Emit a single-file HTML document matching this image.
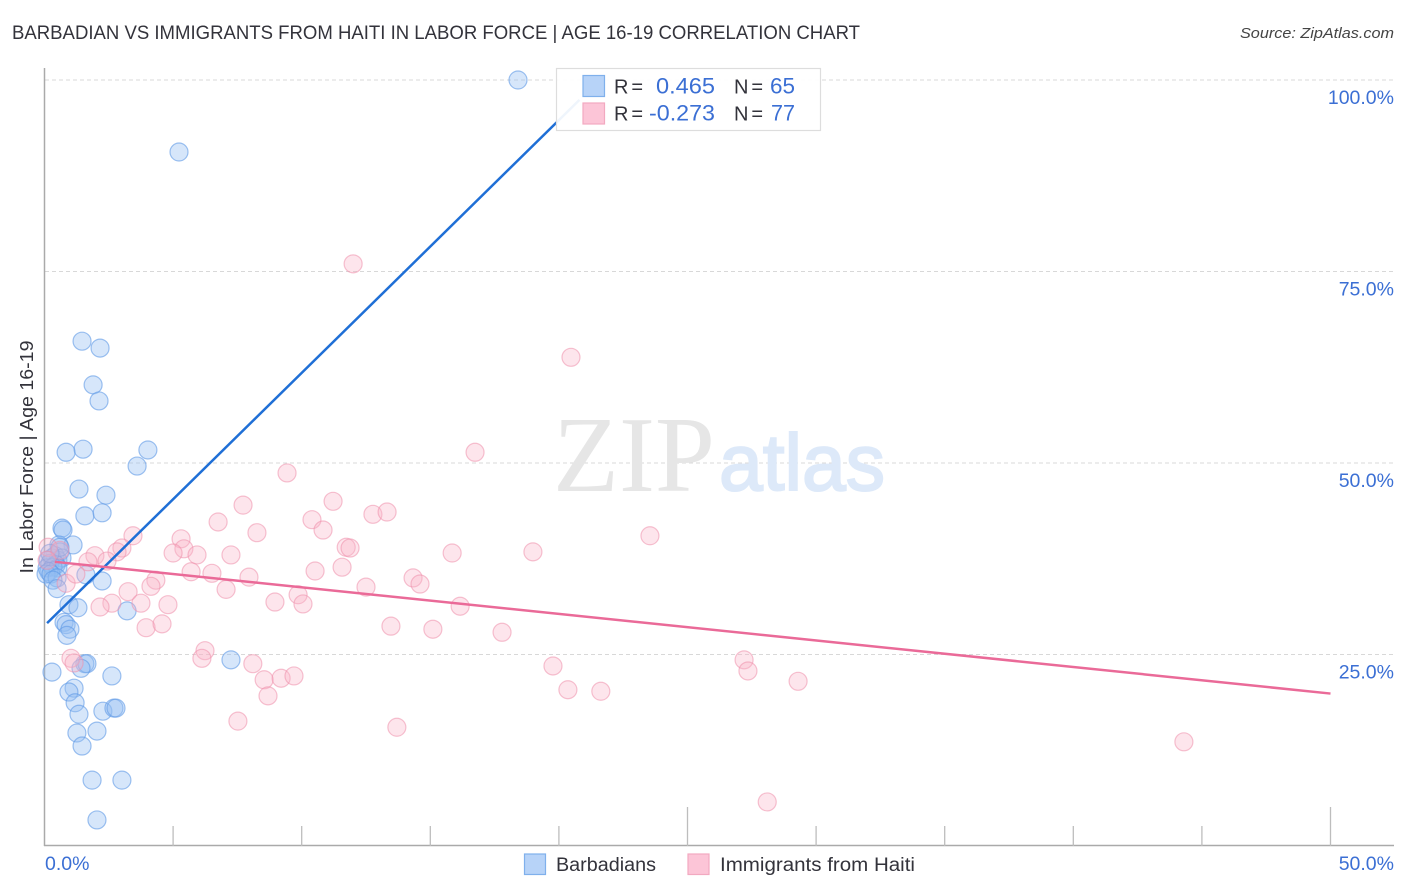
<!DOCTYPE html>
<html lang="en">
<head>
<meta charset="utf-8">
<title>Barbadian vs Immigrants from Haiti in Labor Force | Age 16-19 Correlation Chart</title>
<style>
html,body{margin:0;padding:0;background:#fff;width:1406px;height:892px;overflow:hidden}
svg{display:block;font-family:"Liberation Sans",sans-serif}
</style>
</head>
<body>
<svg id="chart" xmlns="http://www.w3.org/2000/svg" width="1406" height="892" viewBox="0 0 1406 892">
  <text x="12" y="39" font-size="19" fill="#33333b" textLength="848" lengthAdjust="spacingAndGlyphs">BARBADIAN VS IMMIGRANTS FROM HAITI IN LABOR FORCE | AGE 16-19 CORRELATION CHART</text>
  <text x="1394" y="38" font-size="15" font-style="italic" fill="#444" text-anchor="end" textLength="154" lengthAdjust="spacingAndGlyphs">Source: ZipAtlas.com</text>

  <g id="grid"></g>

  <g>
    <text x="553" y="491" font-family="'Liberation Serif',serif" font-size="108" fill="#e6e6e6" textLength="162" lengthAdjust="spacingAndGlyphs">ZIP</text>
    <text x="719" y="490" font-size="80" fill="#dde9f9" stroke="#dde9f9" stroke-width="2" textLength="166" lengthAdjust="spacingAndGlyphs">atlas</text>
  </g>

  <g id="axes">
    <line x1="44.5" y1="68" x2="44.5" y2="846" stroke="#aaa" stroke-width="1.5"/>
    <line x1="44" y1="845.5" x2="1394" y2="845.5" stroke="#aaa" stroke-width="1.5"/>
  </g>

  <g id="points-blue"></g>
  <g id="points-pink"></g>
  <g id="trends"></g>

  <g id="y-labels"></g>
  <g id="x-labels"></g>

  <text transform="translate(33,457) rotate(-90)" font-size="18.5" fill="#33333b" text-anchor="middle" textLength="233" lengthAdjust="spacingAndGlyphs">In Labor Force | Age 16-19</text>

  <g>
    <rect x="556.5" y="68.5" width="264" height="62" fill="#fff" fill-opacity="0.93" stroke="#ddd" stroke-width="1.2"/>
    <rect x="583" y="75.5" width="21.5" height="21" fill="#b7d3f8" stroke="#7fb0ec" stroke-width="1.2"/>
    <rect x="583" y="103" width="21.5" height="21" fill="#fcc5d7" stroke="#f2a9c0" stroke-width="1.2"/>
    <text x="614" y="93.5" font-size="20" fill="#33333b" textLength="29">R =</text>
    <text x="656" y="93.5" font-size="22" fill="#3b6fd4" textLength="59" lengthAdjust="spacingAndGlyphs">0.465</text>
    <text x="734" y="93.5" font-size="20" fill="#33333b" textLength="29">N =</text>
    <text x="770" y="93.5" font-size="22" fill="#3b6fd4" textLength="25" lengthAdjust="spacingAndGlyphs">65</text>
    <text x="614" y="120.5" font-size="20" fill="#33333b" textLength="29">R =</text>
    <text x="649" y="120.5" font-size="22" fill="#3b6fd4" textLength="66" lengthAdjust="spacingAndGlyphs">-0.273</text>
    <text x="734" y="120.5" font-size="20" fill="#33333b" textLength="29">N =</text>
    <text x="771" y="120.5" font-size="22" fill="#3b6fd4" textLength="24" lengthAdjust="spacingAndGlyphs">77</text>
  </g>

  <g>
    <rect x="524.5" y="854" width="21" height="20.5" fill="#b7d3f8" stroke="#7fb0ec" stroke-width="1.2"/>
    <text x="556" y="871" font-size="19" fill="#33333b" textLength="100" lengthAdjust="spacingAndGlyphs">Barbadians</text>
    <rect x="688" y="854" width="21" height="20.5" fill="#fcc5d7" stroke="#f2a9c0" stroke-width="1.2"/>
    <text x="720" y="871" font-size="19" fill="#33333b" textLength="195" lengthAdjust="spacingAndGlyphs">Immigrants from Haiti</text>
  </g>
</svg>

<script>
const barbadianX = [18.41,5.23,1.46,2.16,1.89,2.12,0.84,1.50,4.02,3.60,1.34,2.39,1.57,2.24,0.68,0.72,1.11,0.56,1.61,2.24,3.21,0.95,1.30,0.76,0.84,0.99,0.87,7.25,1.57,1.65,1.42,0.29,2.62,1.15,0.95,1.19,1.34,2.27,2.70,2.78,1.26,2.04,1.46,1.85,3.01,2.04,0.60,0.41,0.29,0.52,0.14,0.68,0.21,0.45,0.10,0.33,0.52,0.17,0.06,0.25,0.49,0.33,0.49,0.60,0.21];
const barbadianY = [100,90.6,65.9,65.0,60.2,58.1,51.4,51.8,51.7,49.6,46.6,45.8,43.1,43.5,41.5,41.25,39.3,39.3,35.4,34.6,30.7,31.5,31.1,29.2,28.9,28.3,27.5,24.3,23.8,23.8,23.2,22.7,22.2,20.6,20.1,18.7,17.2,17.6,18.0,18.0,14.75,15.0,13.05,8.6,8.6,3.4,38.4,37.9,37.6,37.3,37.3,37.6,36.9,36.7,36.3,36.4,36.3,35.8,35.5,35.5,35.0,34.7,33.6,39.0,38.2];
const haitiX = [12.0,20.47,9.43,16.74,11.22,7.72,12.77,13.32,10.4,6.75,10.83,8.26,23.54,3.44,5.31,3.01,5.42,5.0,5.93,7.25,11.73,11.88,15.85,18.99,1.96,2.82,11.57,1.69,2.43,10.52,5.7,6.51,7.95,4.33,4.14,14.33,14.6,12.5,7.06,3.25,9.86,8.96,10.05,3.75,4.8,2.62,2.16,16.16,13.47,15.1,17.79,3.95,4.57,6.24,6.12,1.03,1.15,8.1,19.77,27.2,27.35,8.54,9.2,9.7,29.3,8.69,20.35,21.63,7.52,13.7,44.3,28.1,0.14,0.60,0.10,0.84,1.22];
const haitiY = [76.0,63.8,48.7,51.4,45.0,44.5,43.3,43.6,42.6,42.3,41.25,40.9,40.5,40.5,40.1,38.9,38.8,38.25,38.0,38.0,39.0,38.9,38.25,38.4,37.9,38.4,36.4,37.1,37.2,35.9,35.8,35.6,35.1,34.7,33.9,35.0,34.2,33.8,33.5,33.2,32.8,31.85,31.6,31.7,31.5,31.7,31.2,31.3,28.7,28.3,27.9,28.5,29.0,25.5,24.5,24.5,23.9,23.8,23.5,24.3,22.85,21.7,21.9,22.2,21.5,19.6,20.4,20.2,16.3,15.5,13.6,5.75,39.0,38.6,37.3,34.3,35.5];
const blueTrendX = [0.1,20.8];
const blueTrendY = [29.1,97.4];
const pinkTrendX = [0.4,50];
const pinkTrendY = [37.1,19.9];
const yTicks = [25,50,75,100];
const yTickLabels = ["25.0%","50.0%","75.0%","100.0%"];
const xTicks = [5,10,15,20,25,30,35,40,45,50];
const xMajorTicks = [25,50];
const xEndLabels = ["0.0%","50.0%"];

const NS = "http://www.w3.org/2000/svg";
function xScale(v){ return 44.5 + v * 25.72; }
function yScale(v){ return 846 - v * 7.66; }
function make(tag, attrs){
  const el = document.createElementNS(NS, tag);
  for (const k in attrs) el.setAttribute(k, attrs[k]);
  return el;
}
const gridG = document.getElementById("grid");
const axesG = document.getElementById("axes");
const yLabG = document.getElementById("y-labels");
const xLabG = document.getElementById("x-labels");

yTicks.forEach(function(t, i){
  const ln = make("line", {x1:45, x2:1394, y1:yScale(t), y2:yScale(t), stroke:"#d8d8d8", "stroke-width":1, "stroke-dasharray":"4 3"});
  
  
  gridG.appendChild(ln);
  const lab = make("text", {x:1394, y:yScale(t) + 24, "font-size":19.5, fill:"#3b6fd4", "text-anchor":"end"});
  lab.textContent = yTickLabels[i];
  
  
  yLabG.appendChild(lab);
});

xTicks.forEach(function(t){
  const top = xMajorTicks.indexOf(t) >= 0 ? 807 : 826;
  const tk = make("line", {x1:xScale(t), x2:xScale(t), y1:top, y2:846, stroke:"#bdbdbd", "stroke-width":1.3});
  
  
  axesG.appendChild(tk);
});

const x0Lab = make("text", {x:45, y:870, "font-size":19.5, fill:"#3b6fd4"});
x0Lab.textContent = xEndLabels[0];


xLabG.appendChild(x0Lab);
const x1Lab = make("text", {x:1394, y:870, "font-size":19.5, fill:"#3b6fd4", "text-anchor":"end"});
x1Lab.textContent = xEndLabels[1];


xLabG.appendChild(x1Lab);

const blueG = document.getElementById("points-blue");
barbadianX.forEach(function(v, i){
  const c = make("circle", {cx:xScale(v), cy:yScale(barbadianY[i]), r:9, fill:"#93bef3", "fill-opacity":0.38, stroke:"#5f9ae6", "stroke-opacity":0.6, "stroke-width":1.2});
  
  
  blueG.appendChild(c);
});
const pinkG = document.getElementById("points-pink");
haitiX.forEach(function(v, i){
  const c = make("circle", {cx:xScale(v), cy:yScale(haitiY[i]), r:9, fill:"#f8b4c8", "fill-opacity":0.34, stroke:"#ee8fac", "stroke-opacity":0.55, "stroke-width":1.2});
  
  
  pinkG.appendChild(c);
});

const trendG = document.getElementById("trends");
const blueLine = make("line", {x1:xScale(blueTrendX[0]), y1:yScale(blueTrendY[0]), x2:xScale(blueTrendX[1]), y2:yScale(blueTrendY[1]), stroke:"#1f6fd6", "stroke-width":2.5});


trendG.appendChild(blueLine);
const pinkLine = make("line", {x1:xScale(pinkTrendX[0]), y1:yScale(pinkTrendY[0]), x2:xScale(pinkTrendX[1]), y2:yScale(pinkTrendY[1]), stroke:"#ea6a98", "stroke-width":2.5});


trendG.appendChild(pinkLine);
</script>
</body>
</html>
